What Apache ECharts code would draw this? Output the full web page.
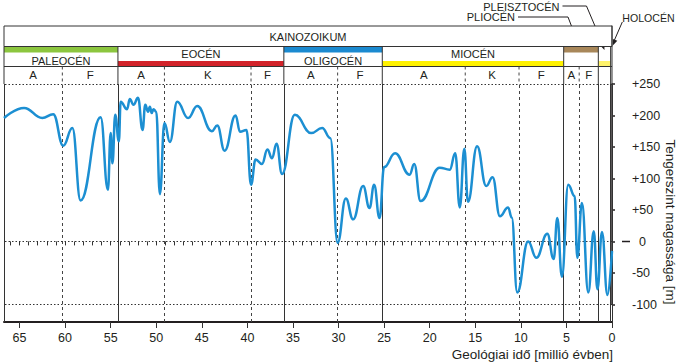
<!DOCTYPE html>
<html><head><meta charset="utf-8">
<script src="https://cdn.jsdelivr.net/npm/echarts@6/dist/echarts.min.js"></script>
<style>html,body{margin:0;padding:0;background:#fff}#c{width:677px;height:362px}</style>
</head><body><div id="c"></div>
<script>
// ---------- DATA ----------
const ageMa = [66.7, 64.5, 62.5, 61.3, 60.2, 59.2, 58.3, 56.1, 55.3, 55.0, 54.8, 54.5, 54.1, 53.9,
  53.2, 52.9, 52.5, 52.0, 51.5, 51.2, 50.9, 50.7, 50.5, 50.3, 50.0, 49.6, 49.1, 48.5, 47.7, 46.5,
  45.5, 43.9, 43.3, 42.5, 41.3, 40.8, 40.1, 39.6, 39.1, 38.4, 37.8, 37.3, 36.8, 36.2, 34.8, 33.0,
  31.8, 30.9, 30.1, 29.2, 28.4, 27.3, 26.6, 26.1, 25.5, 25.0, 23.8, 22.2, 21.7, 21.0, 18.9, 17.8,
  17.2, 16.7, 16.2, 15.8, 14.8, 13.8, 13.1, 12.3, 11.4, 11.0, 10.4, 9.2, 8.3, 7.1, 6.4, 6.0, 5.5,
  4.8, 4.1, 3.8, 3.3, 2.6, 2.0, 1.6, 1.1, 0.5, 0.0];
const seaLevel = [196, 212, 196, 202, 152, 180, 65, 197, 82, 172, 124, 201, 159, 222,
  210, 226, 217, 228, 177, 217, 206, 214, 204, 210, 206, 75, 188, 158, 222, 196,
  215, 175, 184, 144, 200, 174, 177, 90, 130, 123, 146, 132, 155, 107, 201, 172,
  180, 164, -2, 68, 35, 88, 53, 90, 37, 118, 140, 106, 123, 64, 117, 114,
  140, 54, 147, 63, 151, 88, 102, 40, 54, 38, -81, 0, -26, 12, -28, 37, -56,
  90, 72, -26, 61, -81, 16, -76, 15, -85, -15];

const eraNames = ['KAINOZOIKUM'];
const eraStart = [66.7];
const eraEnd = [0];

const epochNames = ['PALEOCÉN', 'EOCÉN', 'OLIGOCÉN', 'MIOCÉN', 'PLIOCÉN', 'PLEISZTOCÉN', 'HOLOCÉN'];
const epochStart = [66.7, 54.2, 36.0, 25.2, 5.3, 1.5, 0.15];
const epochEnd = [54.2, 36.0, 25.2, 5.3, 1.5, 0.15, 0];

const stageNames = ['A', 'F', 'A', 'K', 'F', 'A', 'F', 'A', 'K', 'F', 'A', 'F'];
const stageStart = [66.7, 60.3, 54.2, 49.1, 39.6, 36.0, 30.1, 25.2, 16.1, 10.2, 5.3, 3.6];
const stageEnd = [60.3, 54.2, 49.1, 39.6, 36.0, 30.1, 25.2, 16.1, 10.2, 5.3, 3.6, 1.5];

const ageAxisMin = 0, ageAxisMax = 66.7, ageLabelStep = 5, ageMinorStep = 1;
const levelMin = -100, levelMax = 250, levelStep = 50;
const refLevels = [250, 0, -100];

// ---------- STYLE ----------
const FONT = "'Liberation Sans', Arial, Helvetica, sans-serif";
const INK = '#231f20';
const LINE = '#333';
const epochColors = ['#8cc63f', '#d2232a', '#1b8ad0', '#fff200', '#a8875a', '#fff36b', null];
const epochBarPos = ['top', 'bottom', 'top', 'bottom', 'top', 'bottom', 'none'];
const epochShowLabel = [true, true, true, true, false, false, false];
const ROW = { era: 0, epoch: 20.5, stage: 40.5, bottom: 58 };

const chart = echarts.init(document.getElementById('c'), null, { renderer: 'svg' });

const gridMain = { left: 4, right: 65, top: 84, bottom: 40, outerBoundsMode: 'none' };

function eraItem(params, api) {
  const a = api.coord([api.value(0), ROW.era]);
  const b = api.coord([api.value(1), ROW.epoch]);
  return { type: 'group', children: [
    { type: 'rect', shape: { x: a[0], y: a[1], width: b[0] - a[0], height: b[1] - a[1] },
      style: { fill: '#fff', stroke: LINE, lineWidth: 1 } },
    { type: 'text', x: (a[0] + b[0]) / 2, y: (a[1] + b[1]) / 2 + 0.5,
      style: { text: eraNames[params.dataIndex], fill: INK, fontSize: 11, fontFamily: FONT,
        align: 'center', verticalAlign: 'middle' } }
  ]};
}

function epochItem(params, api) {
  const i = params.dataIndex;
  const a = api.coord([api.value(0), ROW.epoch]);
  const m = api.coord([api.value(1), ROW.stage]);
  const b = api.coord([api.value(0), ROW.bottom]);
  const x0 = a[0], x1 = m[0], yT = a[1], yM = m[1], yB = b[1];
  const ch = [];
  if (epochColors[i]) {
    const bh = 5.5;
    const by = epochBarPos[i] === 'top' ? yT + 0.5 : yM - bh;
    ch.push({ type: 'rect', shape: { x: x0, y: by, width: x1 - x0, height: bh }, style: { fill: epochColors[i] } });
  }
  ch.push({ type: 'line', shape: { x1: x0, y1: yT, x2: x1, y2: yT }, style: { stroke: LINE, lineWidth: 1 } });
  ch.push({ type: 'line', shape: { x1: x0, y1: yM, x2: x1, y2: yM }, style: { stroke: LINE, lineWidth: 1 } });
  ch.push({ type: 'line', shape: { x1: x0, y1: yT, x2: x0, y2: yB }, style: { stroke: LINE, lineWidth: 1 } });
  if (i === epochNames.length - 1) {
    ch.push({ type: 'line', shape: { x1: x1, y1: yT - 21, x2: x1, y2: yB }, style: { stroke: LINE, lineWidth: 1 } });
  }
  if (epochShowLabel[i]) {
    const ty = epochBarPos[i] === 'top' ? yT + 14.3 : yT + 7.2;
    ch.push({ type: 'text', x: (x0 + x1) / 2, y: ty,
      style: { text: epochNames[i], fill: INK, fontSize: 11, fontFamily: FONT, align: 'center', verticalAlign: 'middle' } });
  }
  return { type: 'group', children: ch };
}

function stageItem(params, api) {
  const i = params.dataIndex;
  const s = api.value(0), e = api.value(1);
  const a = api.coord([s, ROW.stage]);
  const b = api.coord([e, ROW.bottom]);
  const isEpochEdge = epochStart.indexOf(s) >= 0;
  const ch = [];
  if (!isEpochEdge) {
    ch.push({ type: 'line', shape: { x1: a[0], y1: a[1], x2: a[0], y2: b[1] },
      style: { stroke: '#444', lineWidth: 1, lineDash: [3, 3] } });
  }
  ch.push({ type: 'text', x: (a[0] + b[0]) / 2, y: (a[1] + b[1]) / 2,
    style: { text: stageNames[i], fill: INK, fontSize: 11.5, fontFamily: FONT, align: 'center', verticalAlign: 'middle' } });
  return { type: 'group', children: ch };
}

// vertical and horizontal reference lines in the plot
const stageInner = stageStart.filter(s => epochStart.indexOf(s) < 0);
const markLines = [];
epochStart.concat([0]).forEach(v => markLines.push({ xAxis: v, lineStyle: { color: LINE, width: 1, type: 'solid' } }));
stageInner.forEach(v => markLines.push({ xAxis: v, lineStyle: { color: '#444', width: 1, type: [3, 3] } }));
refLevels.forEach(v => markLines.push({ yAxis: v, lineStyle: { color: LINE, width: 1, type: [1.5, 2] } }));

const option = {
  animation: false,
  backgroundColor: '#fff',
  textStyle: { fontFamily: FONT },
  grid: [
    Object.assign({}, gridMain),
    Object.assign({}, gridMain),
    { left: 4, right: 65, top: 84, bottom: 57.5, outerBoundsMode: 'none' },
    { left: 4, right: 65, top: 26, height: 58, outerBoundsMode: 'none' }
  ],
  xAxis: [
    { gridIndex: 0, type: 'value', inverse: true, min: ageAxisMin, max: ageAxisMax, interval: ageLabelStep,
      axisLine: { show: true, onZero: false, lineStyle: { color: INK, width: 2 } },
      axisTick: { show: true, length: 6, lineStyle: { color: LINE, width: 1 } },
      axisLabel: { show: true, fontSize: 12.5, color: INK, margin: 9, showMaxLabel: false, fontFamily: FONT },
      splitLine: { show: false } },
    { gridIndex: 1, type: 'value', inverse: true, min: ageAxisMin, max: ageAxisMax, interval: ageMinorStep,
      axisLine: { show: false }, axisTick: { show: true, length: 4, lineStyle: { color: LINE, width: 1 } },
      axisLabel: { show: false }, splitLine: { show: false } },
    { gridIndex: 2, type: 'value', inverse: true, min: ageAxisMin, max: ageAxisMax, show: false },
    { gridIndex: 3, type: 'value', inverse: true, min: ageAxisMin, max: ageAxisMax, show: false }
  ],
  yAxis: [
    { gridIndex: 0, type: 'value', min: -128, max: levelMax, show: false },
    { gridIndex: 1, type: 'value', min: -128, max: levelMax, show: false },
    { gridIndex: 2, type: 'value', position: 'right', offset: 10, min: levelMin, max: levelMax, interval: levelStep,
      axisLine: { show: true, lineStyle: { color: INK, width: 1.5 } },
      axisTick: { show: true, length: 3, lineStyle: { color: INK, width: 1.5 } },
      axisLabel: { show: true, fontSize: 12.5, color: INK, margin: 10, fontFamily: FONT,
        formatter: v => v > 0 ? '+' + v : (v < 0 ? '-' + Math.abs(v) : '{z|0}'),
        rich: { z: { fontSize: 12.5, color: INK, fontFamily: FONT, padding: [0, 0, 0, 7] } } },
      splitLine: { show: false } },
    { gridIndex: 3, type: 'value', inverse: true, min: 0, max: 58, show: false }
  ],
  series: [
    { type: 'line', xAxisIndex: 0, yAxisIndex: 0, data: [], z: 1, silent: true,
      markLine: { silent: true, symbol: ['none', 'none'], label: { show: false }, animation: false, data: markLines } },
    { type: 'line', name: 'sea level', xAxisIndex: 0, yAxisIndex: 0, z: 5,
      data: ageMa.map((t, i) => [t, seaLevel[i]]),
      smooth: 0.45, smoothMonotone: 'x', showSymbol: false, symbol: 'none',
      lineStyle: { color: '#1c8fd2', width: 2.5 } },
    { type: 'custom', xAxisIndex: 3, yAxisIndex: 3, clip: false, silent: true,
      data: eraStart.map((s, i) => [s, eraEnd[i]]), renderItem: eraItem },
    { type: 'custom', xAxisIndex: 3, yAxisIndex: 3, clip: false, silent: true, z: 3,
      data: epochStart.map((s, i) => [s, epochEnd[i]]), renderItem: epochItem },
    { type: 'custom', xAxisIndex: 3, yAxisIndex: 3, clip: false, silent: true, z: 3,
      data: stageStart.map((s, i) => [s, stageEnd[i]]), renderItem: stageItem }
  ]
};
chart.setOption(option);

// ---------- annotations (derived from epoch positions) ----------
function px(t, y) { return chart.convertToPixel({ gridIndex: 3 }, [t, y]); }
function arrowHead(from, tip) {
  const dx = tip[0] - from[0], dy = tip[1] - from[1];
  const L = Math.sqrt(dx * dx + dy * dy) || 1;
  const ux = dx / L, uy = dy / L, len = 6, hw = 2.4;
  const bx = tip[0] - ux * len, by = tip[1] - uy * len;
  return { type: 'polygon', shape: { points: [tip, [bx - uy * hw, by + ux * hw], [bx + uy * hw, by - ux * hw]] },
    style: { fill: INK } };
}
const gEls = [];
const txt = (text, x, y, align, size) => ({ type: 'text', x, y,
  style: { text, fill: INK, fontSize: size || 11, fontFamily: FONT, align, verticalAlign: 'middle' } });
const leader = pts => ({ type: 'polyline', shape: { points: pts }, style: { stroke: INK, lineWidth: 1, fill: null } });

// Pliocene
{
  const i = 4; const tx = px((epochStart[i] + epochEnd[i]) / 2, 0)[0] - 3; const ty = px(0, ROW.epoch)[1] - 2;
  const bend = [tx - 10, 17];
  gEls.push(txt(epochNames[i], tx - 63, 17, 'right'));
  gEls.push(leader([[tx - 60, 17], bend, [tx - 1, ty - 4]]));
  gEls.push(arrowHead(bend, [tx, ty]));
}
// Pleistocene
{
  const i = 5; const tx = px((epochStart[i] + epochEnd[i]) / 2, 0)[0]; const ty = px(0, ROW.epoch)[1] + 3.5;
  const bend = [tx - 18, 6];
  gEls.push(txt(epochNames[i], tx - 45, 6.5, 'right'));
  gEls.push(leader([[tx - 42, 6], bend, [tx - 1, ty - 4]]));
  gEls.push(arrowHead(bend, [tx, ty]));
}
// Holocene
{
  const i = 6; const tx = px((epochStart[i] + epochEnd[i]) / 2, 0)[0] + 1.5; const ty = px(0, ROW.epoch)[1] - 1;
  const start = [tx + 9.5, 22];
  gEls.push(txt(epochNames[i], tx + 9.5, 17.5, 'left', 10.6));
  gEls.push(leader([start, [tx + 1, ty - 4]]));
  gEls.push(arrowHead(start, [tx, ty]));
}
// long tick at sea level 0 on the right scale
{
  const y0 = chart.convertToPixel({ gridIndex: 2 }, [0, 0])[1];
  const xa = chart.convertToPixel({ gridIndex: 2 }, [0, 0])[0] + 10;
  gEls.push({ type: 'line', shape: { x1: xa, y1: y0, x2: xa + 8, y2: y0 }, style: { stroke: INK, lineWidth: 1.5 } });
}
// axis names
gEls.push({ type: 'text', x: 613, y: 354.5,
  style: { text: 'Geológiai idő [millió évben]', fill: INK, fontSize: 13.5, fontFamily: FONT, align: 'right', verticalAlign: 'middle' } });
gEls.push({ type: 'text', x: 670, y: 222, rotation: -Math.PI / 2,
  style: { text: 'Tengerszint magassága [m]', fill: INK, fontSize: 13.5, fontFamily: FONT, align: 'center', verticalAlign: 'middle' } });

chart.setOption({ graphic: { elements: gEls } });
</script>
</body></html>
